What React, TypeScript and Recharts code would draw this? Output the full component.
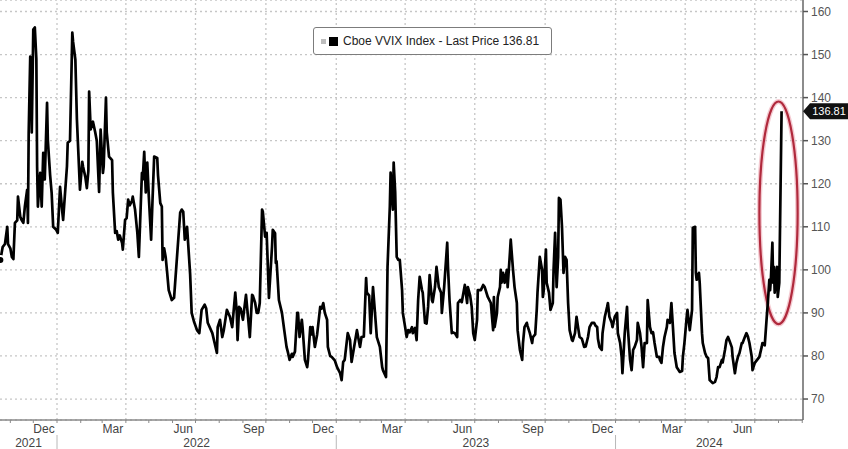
import React from "react";
import {
  LineChart, Line, XAxis, YAxis, CartesianGrid,
  ReferenceLine, ReferenceDot, ReferenceArea, Legend,
} from "recharts";

// calendar days from 2022-01-01 (negative = 2021)
const days = [
  -74, -71, -68, -65, -64, -61, -59, -57, -55, -52, -51, -48, -46, -44, -42, -39, -38, -37, -35, -34,
  -33, -31, -29, -27, -26, -25, -22, -20, -18, -16, -13, -12, -9, -7, -5, -1, 1, 4, 7, 8,
  13, 14, 17, 20, 21, 24, 26, 30, 33, 34, 37, 39, 41, 42, 44, 47, 50, 52, 55, 57,
  60, 61, 64, 65, 68, 72, 73, 76, 78, 80, 82, 85, 86, 89, 91, 93, 95, 98, 99, 102,
  105, 107, 111, 112, 114, 116, 118, 120, 123, 125, 127, 131, 132, 135, 137, 138, 140, 142, 144, 146,
  150, 153, 161, 163, 165, 167, 170, 174, 176, 179, 183, 186, 189, 193, 195, 197, 203, 206, 209, 210,
  213, 216, 218, 222, 226, 229, 233, 235, 236, 238, 240, 243, 247, 250, 252, 255, 256, 259, 261, 263,
  265, 268, 269, 272, 274, 277, 281, 282, 285, 286, 287, 290, 294, 297, 300, 302, 304, 307, 308, 311,
  314, 315, 317, 320, 321, 324, 327, 328, 331, 333, 334, 337, 340, 344, 346, 348, 350, 353, 354, 357,
  359, 363, 366, 370, 372, 374, 376, 380, 383, 385, 387, 392, 393, 396, 398, 401, 404, 405, 408, 410,
  413, 415, 418, 422, 425, 426, 430, 432, 435, 436, 439, 440, 442, 444, 446, 448, 451, 452, 455, 457,
  459, 461, 464, 465, 468, 470, 472, 474, 477, 478, 481, 483, 485, 487, 490, 491, 494, 496, 499, 502,
  503, 506, 510, 511, 513, 516, 517, 520, 523, 524, 527, 529, 533, 536, 537, 540, 542, 544, 546, 549,
  550, 554, 557, 559, 563, 567, 570, 571, 572, 575, 576, 579, 580, 581, 583, 585, 588, 589, 592, 593,
  596, 598, 601, 602, 605, 608, 609, 611, 614, 615, 618, 621, 622, 625, 627, 628, 631, 634, 635, 636,
  639, 640, 643, 645, 648, 649, 651, 653, 655, 656, 658, 660, 662, 664, 666, 668, 670, 673, 674, 677,
  679, 681, 683, 686, 689, 691, 694, 696, 699, 702, 704, 706, 707, 709, 712, 713, 716, 719, 720, 722,
  725, 726, 729, 732, 733, 736, 738, 739, 742, 745, 746, 749, 751, 753, 755, 758, 759, 762, 764, 766,
  768, 771, 772, 775, 777, 779, 781, 784, 787, 788, 790, 792, 794, 797, 798, 801, 803, 805, 807, 810,
  814, 817, 818, 820, 823, 824, 827, 830, 831, 834, 835, 836, 839, 840, 843, 844, 847, 849, 851, 853,
  857, 860, 862, 864, 866, 869, 870, 873, 875, 877, 879, 882, 883, 886, 888, 890, 892, 895, 896, 899,
  901, 903, 905, 908, 909, 912, 915, 918, 921, 922, 925, 928, 929, 931, 932, 933, 935, 936, 937, 938,
  941, 942, 944, 947,
];

const vvix = [
  102.3, 105.3, 106, 110, 106, 105, 103, 102.5, 110.9, 111.5, 117, 112.3, 111.5, 110.9, 114.7, 118.6, 110.9, 131.9, 149.5, 149,
  131.9, 155.8, 156.3, 149, 124, 114.7, 122.5, 114.7, 127.2, 121, 138.8, 130.2, 122, 117.9, 110, 109.3, 108.6, 119.3, 113.3, 111.6,
  124, 129.5, 130, 155.1, 153, 148.8, 135, 118.6, 125.1, 124, 121.6, 119, 123, 141.4, 132.6, 134.4, 131.9, 130, 118.1, 132.6,
  122.5, 124, 140, 132, 126.3, 125.5, 118, 108.6, 109, 107, 108, 106.3, 104.7, 111.6, 112, 116.3, 115, 116, 117, 114,
  108.6, 103, 122.5, 121, 127.4, 118, 124.9, 117, 107, 117, 126.3, 126, 122, 115.5, 114.7, 102.3, 105, 103, 99.3, 95.3,
  93, 93.5, 113.3, 114, 113.5, 107, 110, 99, 90, 88, 86, 85.3, 90.7, 91.9, 91, 87.7, 85.3, 83, 80.7, 86.7,
  88.4, 84.4, 86, 90.7, 89.1, 86.7, 94.7, 90, 83.7, 91.4, 91, 88.4, 94.2, 88.4, 84.4, 94.2, 94, 92.3, 90, 90,
  92.3, 114, 113.5, 107.7, 108.6, 93.5, 105.3, 109.3, 108.5, 101.6, 102, 93, 90, 86, 82.1, 80.7, 79.1, 80.5, 79.8, 81,
  90, 90, 84.4, 88.4, 86.5, 79.1, 77.4, 79, 86.7, 85, 86.7, 82.1, 85, 91.4, 91, 92.3, 90, 88.4, 82.1, 80,
  79.8, 79, 77.4, 76, 74.4, 78.6, 79.1, 85.3, 83.7, 78.6, 80.7, 86, 85, 82.1, 84.4, 84.5, 98.1, 94.7, 94, 85.3,
  96, 91.4, 84.4, 82.1, 77.4, 76.7, 75.1, 100.7, 114.7, 122.6, 114, 124.9, 118, 103, 102.3, 102.3, 95.3, 90, 86.7, 84.4,
  86, 85.5, 86.7, 85.3, 86.5, 83.7, 93, 98.4, 95.3, 94.7, 87.7, 87.5, 91.4, 98.8, 93, 92.5, 96, 100.7, 96, 94.7,
  90, 96, 106.3, 100.7, 93, 85.3, 85.5, 85.3, 84.4, 92.3, 93, 92.5, 96.5, 92.3, 96, 94, 91.4, 85.3, 83.7, 88.4,
  95.3, 95.3, 96.5, 96, 93.7, 92.3, 86, 93.7, 86.7, 90, 93.7, 96, 100, 97, 99.3, 97, 100, 96, 104, 107,
  100, 96, 92.3, 86, 81.4, 79.1, 83, 86.7, 87.7, 87, 85.3, 83, 84.4, 85, 90.7, 94.7, 103, 100, 93.7, 95,
  104.7, 97, 94.7, 90.7, 92.3, 100, 108.6, 96, 103, 116.7, 116.3, 110, 99.3, 103, 102.3, 92.3, 86, 83.7, 83.5, 85.3,
  89.1, 86.7, 84.4, 84, 82.1, 82.2, 84.4, 86.7, 87.7, 87.7, 87, 86.7, 84, 82.1, 81.4, 85.3, 89.1, 91.4, 92.3, 89.1,
  87.7, 86.7, 89.1, 90, 85.3, 83, 79.8, 76, 85.3, 91.4, 86.7, 79.1, 76.7, 81.4, 82.1, 83.7, 87.7, 85.3, 82.1, 77.4,
  83, 83, 93, 86.7, 85.3, 85.5, 83, 79.8, 79.8, 79.1, 78.4, 82.1, 84.4, 86.7, 88.4, 87.7, 92.3, 86.7, 80.7, 77.4,
  76.3, 76.5, 79.8, 83, 89.1, 90.7, 86, 90.7, 109.8, 110, 99.3, 97.7, 99.3, 97, 85.3, 83, 80.7, 79.8, 79.5, 74.4,
  73.7, 74, 75.1, 77.4, 77.4, 79.1, 78.5, 81.4, 83.7, 84.4, 83.5, 82, 79.8, 76, 78.4, 79.8, 80.7, 83, 83, 84.4,
  85.3, 84.5, 83, 79.8, 76.7, 78.4, 79.1, 79.8, 82.1, 83, 82.5, 90, 92.3, 97.7, 95.3, 97.7, 106.3, 97, 100.7, 94.7,
  100.7, 93.7, 97, 136.81,
];

const lastPrice = 136.81;
const seriesName = "Cboe VVIX Index - Last Price 136.81";

const yTicks = [70, 80, 90, 100, 110, 120, 130, 140, 150, 160];
const yMinorTicks = [75, 85, 95, 105, 115, 125, 135, 145, 155];
const yMin = 65.13;
const yMax = 162.67;

// month labels on the axis: [year, month, text]
const monthLabels: [number, number, string][] = [
  [2021, 12, "Dec"], [2022, 3, "Mar"], [2022, 6, "Jun"], [2022, 9, "Sep"],
  [2022, 12, "Dec"], [2023, 3, "Mar"], [2023, 6, "Jun"], [2023, 9, "Sep"],
  [2023, 12, "Dec"], [2024, 3, "Mar"], [2024, 6, "Jun"],
];
const yearLabels = [2021, 2022, 2023, 2024];

const DAY = 86400000;
const base = Date.UTC(2022, 0, 1);
const dayOf = (y: number, m: number, d: number) => (Date.UTC(y, m - 1, d) - base) / DAY;

const xMin = dayOf(2021, 10, 19) - 0.5;
const xMax = dayOf(2024, 9, 2);

const data = days.map((d, i) => ({ day: d, v: vvix[i] }));

// month starts for tick marks, quarter starts for grid lines
const monthTicks: number[] = [];
const quarterTicks: number[] = [];
for (let y = 2021; y <= 2024; y++) {
  for (let m = 1; m <= 12; m++) {
    const d = dayOf(y, m, 1);
    if (d < xMin || d > xMax) continue;
    monthTicks.push(d);
    if ((m - 1) % 3 === 0) quarterTicks.push(d);
  }
}

// bottom label row: month names, year names, year separators
const labelMap = new Map<number, { kind: string; text: string }>();
monthLabels.forEach(([y, m, t]) => labelMap.set(dayOf(y, m, 15), { kind: "month", text: t }));
yearLabels.forEach((y) => {
  const a = Math.max(xMin, dayOf(y, 1, 1));
  const b = Math.min(xMax, dayOf(y + 1, 1, 1));
  labelMap.set((a + b) / 2, { kind: "year", text: String(y) });
  if (y > yearLabels[0]) labelMap.set(dayOf(y, 1, 1), { kind: "sep", text: "" });
});
const labelTicks = Array.from(labelMap.keys()).sort((a, b) => a - b);

const font = "'Liberation Sans', Arial, sans-serif";
const gridColor = "#c6c6c6";

const EmptyTick = () => <g />;

function BottomTick(props: any) {
  const { x, y, payload } = props;
  const item = labelMap.get(payload.value);
  if (!item) return <g />;
  if (item.kind === "sep") {
    return <line x1={x} x2={x} y1={y + 11} y2={y + 25} stroke="#b8b8b8" strokeWidth={1} />;
  }
  return (
    <text x={x} y={y + (item.kind === "month" ? 9 : 23)} textAnchor="middle" fill="#444" fontSize={12}>
      {item.text}
    </text>
  );
}

function PriceTag(props: any) {
  const { cx, cy } = props;
  return (
    <g>
      <path d={`M${cx},${cy} L${cx + 7},${cy - 8} H${cx + 45} V${cy + 8} H${cx + 7} Z`} fill="#111" />
      <text x={cx + 26} y={cy + 4} textAnchor="middle" fill="#fff" fontSize={11}>
        {lastPrice.toFixed(2)}
      </text>
    </g>
  );
}

function Ring(props: any) {
  const { x, y, width, height } = props;
  const cx = x + width / 2;
  const cy = y + height / 2;
  return (
    <g>
      <ellipse cx={cx} cy={cy} rx={width / 2} ry={height / 2} fill="none" stroke="#f0b4bd" strokeWidth={5} opacity={0.7} />
      <ellipse cx={cx} cy={cy} rx={width / 2} ry={height / 2} fill="none" stroke="#b0293c" strokeWidth={2.2} />
    </g>
  );
}

function LegendBox() {
  return (
    <div
      style={{
        display: "flex", alignItems: "center", height: 28, boxSizing: "border-box",
        border: "1.5px solid #7c7c7c", borderRadius: 3, background: "#fff",
        padding: "0 7px", fontSize: 12, color: "#222", fontFamily: font, whiteSpace: "nowrap",
      }}
    >
      <span style={{ display: "inline-block", width: 5, height: 5, background: "#bdbdbd", marginRight: 3 }} />
      <span style={{ display: "inline-block", width: 9, height: 9, background: "#000", marginRight: 5 }} />
      {seriesName}
    </div>
  );
}

export default function App() {
  return (
    <div style={{ position: "absolute", left: 0, top: 0, width: 848, height: 449, background: "#fff", fontFamily: font }}>
      <LineChart width={848} height={449} data={data} margin={{ top: 0, right: 0, bottom: 0, left: 0 }}>
        <CartesianGrid vertical={false} stroke={gridColor} strokeDasharray="2 3" strokeWidth={1.3} />
        {quarterTicks.map((q) => (
          <ReferenceLine key={q} x={q} stroke={gridColor} strokeDasharray="2 3" strokeWidth={1.3} />
        ))}
        <XAxis
          dataKey="day" type="number" domain={[xMin, xMax]} allowDataOverflow
          ticks={monthTicks} interval={0} tick={EmptyTick} height={4} tickSize={3}
          axisLine={{ stroke: "#8a8a8a", strokeWidth: 1.5 }} tickLine={{ stroke: "#8a8a8a" }}
        />
        <XAxis
          xAxisId="lab" dataKey="day" type="number" domain={[xMin, xMax]} allowDataOverflow
          ticks={labelTicks} interval={0} tick={BottomTick} height={25}
          tickSize={0} tickMargin={0} tickLine={false} axisLine={false}
        />
        <YAxis
          yAxisId="minor" orientation="right" type="number" domain={[yMin, yMax]} allowDataOverflow
          ticks={yMinorTicks} interval={0} width={0} tickSize={3} tick={EmptyTick}
          axisLine={false} tickLine={{ stroke: "#777" }}
        />
        <YAxis
          orientation="right" type="number" domain={[yMin, yMax]} allowDataOverflow
          ticks={yTicks} interval={0} width={45} tickSize={5} tickMargin={3}
          axisLine={{ stroke: "#666", strokeWidth: 1.5 }} tickLine={{ stroke: "#555", strokeWidth: 1.5 }}
          tick={{ fill: "#555", fontSize: 12 }}
        />
        <Legend
          layout="vertical" align="center" verticalAlign="middle"
          wrapperStyle={{ left: 313, top: 27, width: 239 }}
          content={LegendBox}
        />
        <Line
          dataKey="v" type="linear" stroke="#000" strokeWidth={2.7} dot={false}
          strokeLinejoin="round" isAnimationActive={false}
        />
        <ReferenceArea x1={918} x2={968} y1={87.4} y2={139.1} shape={Ring} ifOverflow="visible" />
        <ReferenceDot x={xMax} y={lastPrice} shape={PriceTag} ifOverflow="visible" />
      </LineChart>
    </div>
  );
}
